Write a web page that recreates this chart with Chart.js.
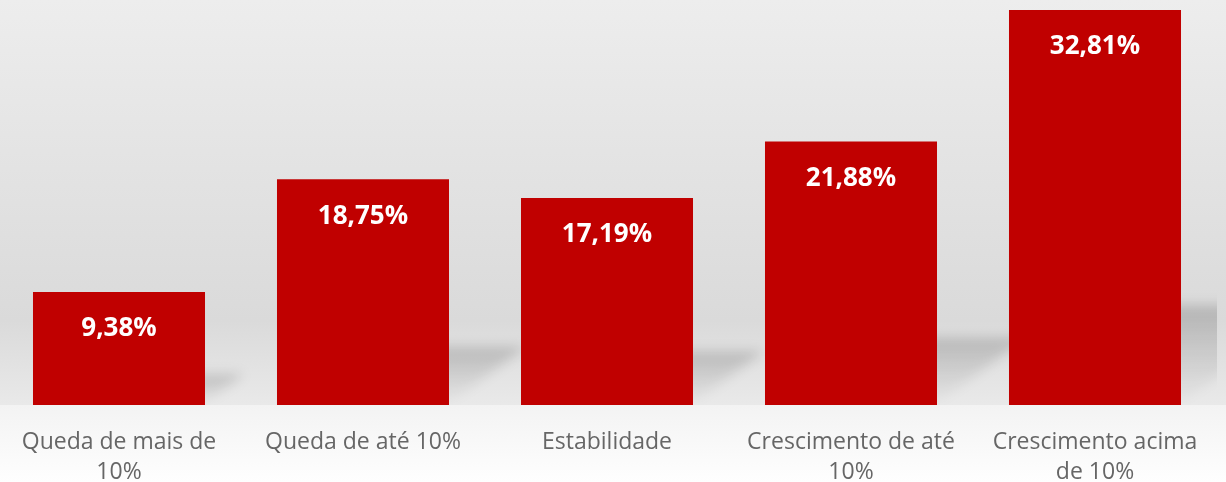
<!DOCTYPE html>
<html>
<head>
<meta charset="utf-8">
<script src="https://cdn.jsdelivr.net/npm/chart.js@4/dist/chart.umd.min.js"></script>
<style>
  html, body { margin: 0; padding: 0; width: 1226px; height: 482px; overflow: hidden; }
  body {
    background: linear-gradient(to bottom, #ededed 0px, #dadada 320px, #e9e9e9 405px, #f3f3f3 405px, #fefefe 482px);
    position: relative;
  }
  #wrap { position: absolute; left: -3px; top: 0; width: 1220px; height: 482px; }
</style>
</head>
<body>
<div id="wrap"><canvas id="chart"></canvas></div>
<script>
// Distribuição das respostas por faixa de variação
const categories = [
  ["Queda de mais de", "10%"],
  ["Queda de até 10%"],
  ["Estabilidade"],
  ["Crescimento de até", "10%"],
  ["Crescimento acima", "de 10%"]
];
const shares = [9.38, 18.75, 17.19, 21.88, 32.81];

const formatPct = v => v.toFixed(2).replace(".", ",") + "%";

// Soft perspective shadow cast behind each bar, leaning to the upper right
const barShadows = {
  id: "barShadows",
  beforeDatasetsDraw(chart) {
    const ctx = chart.ctx;
    const area = chart.chartArea;
    const meta = chart.getDatasetMeta(0);
    ctx.save();
    ctx.beginPath();
    ctx.rect(area.left, area.top, area.right - area.left, area.bottom - area.top);
    ctx.clip();
    ctx.filter = "blur(6px)";
    meta.data.forEach(bar => {
      const h = bar.base - bar.y;
      const L = bar.x - bar.width / 2, R = bar.x + bar.width / 2, B = bar.base - 3;
      const dy = 0.245 * h, dx = dy * 1.4;
      const g = ctx.createLinearGradient(0, B - dy, 0, B);
      g.addColorStop(0, "rgba(0,0,0,0.17)");
      g.addColorStop(0.5, "rgba(0,0,0,0.09)");
      g.addColorStop(1, "rgba(0,0,0,0.01)");
      ctx.fillStyle = g;
      ctx.beginPath();
      ctx.moveTo(L, B);
      ctx.lineTo(R, B);
      ctx.lineTo(R + dx, B - dy);
      ctx.lineTo(L + dx, B - dy);
      ctx.closePath();
      ctx.fill();
    });
    ctx.restore();
  }
};

// Value labels printed inside the top of each bar
const valueLabels = {
  id: "valueLabels",
  afterDatasetsDraw(chart) {
    const ctx = chart.ctx;
    const meta = chart.getDatasetMeta(0);
    const values = chart.data.datasets[0].data;
    ctx.save();
    ctx.fillStyle = "#ffffff";
    ctx.font = "bold 26px 'Open Sans', sans-serif";
    ctx.textAlign = "center";
    ctx.textBaseline = "middle";
    meta.data.forEach((bar, i) => {
      ctx.fillText(formatPct(values[i]), bar.x, bar.y + 37);
    });
    ctx.restore();
  }
};

new Chart(document.getElementById("chart"), {
  type: "bar",
  data: {
    labels: categories,
    datasets: [{
      data: shares,
      backgroundColor: "#c00000",
      borderWidth: 0,
      barPercentage: 0.705,
      categoryPercentage: 1
    }]
  },
  options: {
    responsive: true,
    maintainAspectRatio: false,
    animation: false,
    layout: { padding: 0 },
    plugins: { legend: { display: false }, tooltip: { enabled: false } },
    scales: {
      x: {
        grid: { display: false, drawTicks: false },
        border: { display: false },
        ticks: {
          color: "#666666",
          font: { family: "'Open Sans', sans-serif", size: 23, lineHeight: 1.3 },
          padding: 23,
          maxRotation: 0,
          autoSkip: false
        },
        afterFit(scale) {
          scale.height = 77;
          scale.paddingLeft = 0;
          scale.paddingRight = 0;
        }
      },
      y: {
        display: false,
        min: 0,
        max: 33.64
      }
    }
  },
  plugins: [barShadows, valueLabels]
});
</script>
</body>
</html>
